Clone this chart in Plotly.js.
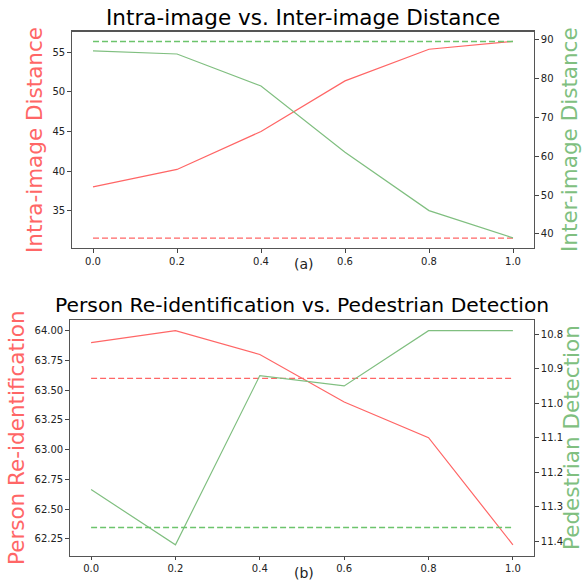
<!DOCTYPE html>
<html>
<head>
<meta charset="utf-8">
<script src="https://cdn.plot.ly/plotly-3.0.1.min.js"></script>
<style>html,body{margin:0;padding:0;background:#fff;}#chart{width:583px;height:582px;}</style>
</head>
<body>
<div id="chart"></div>
<script>
// ---- data ----
const xVals = [0.0, 0.2, 0.4, 0.6, 0.8, 1.0];
const baselineX = [0.0, 1.0];
const xTickVals = [0.0, 0.2, 0.4, 0.6, 0.8, 1.0];
const xTickText = ['0.0', '0.2', '0.4', '0.6', '0.8', '1.0'];

const intraDist = [38.0, 40.2, 45.0, 51.4, 55.4, 56.4];
const interDist = [87.0, 86.2, 78.0, 61.0, 46.0, 39.0];
const intraBaseline = [31.5, 31.5];
const interBaseline = [89.4, 89.4];
const intraTicks = [35, 40, 45, 50, 55];
const interTicks = [40, 50, 60, 70, 80, 90];

const reidScore = [63.9, 64.0, 63.8, 63.4, 63.1, 62.2];
const detScore = [11.25, 11.41, 10.92, 10.95, 10.79, 10.79];
const reidBaseline = [63.6, 63.6];
const detBaseline = [11.36, 11.36];
const reidTicks = [62.25, 62.5, 62.75, 63.0, 63.25, 63.5, 63.75, 64.0];
const reidTickText = ['62.25', '62.50', '62.75', '63.00', '63.25', '63.50', '63.75', '64.00'];
const detTicks = [10.8, 10.9, 11.0, 11.1, 11.2, 11.3, 11.4];
const detTickText = ['10.8', '10.9', '11.0', '11.1', '11.2', '11.3', '11.4'];

// ---- styles ----
const RED = '#ff6666';
const GREEN = '#80bf80';
const GREEN_DASH = '#6cc46c';
const FONT = 'DejaVu Sans, Liberation Sans, sans-serif';
const LW = 1.2;
const DASH = '6px,3px';

function line(x, y, color, xa, ya, dash, w) {
  return {x: x, y: y, type: 'scatter', mode: 'lines', xaxis: xa, yaxis: ya,
          line: {color: color, width: w || LW, dash: dash || 'solid'}, hoverinfo: 'skip', showlegend: false};
}

const traces = [
  line(xVals, intraDist, RED, 'x', 'y'),
  line(baselineX, intraBaseline, RED, 'x', 'y', DASH),
  line(xVals, interDist, GREEN, 'x', 'y2'),
  line(baselineX, interBaseline, GREEN_DASH, 'x', 'y2', DASH, 1.4),
  line(xVals, reidScore, RED, 'x2', 'y3'),
  line(baselineX, reidBaseline, RED, 'x2', 'y3', DASH),
  line(xVals, detScore, GREEN, 'x2', 'y4'),
  line(baselineX, detBaseline, GREEN_DASH, 'x2', 'y4', DASH, 1.4)
];

const common = {
  showgrid: false, zeroline: false, showline: true, linecolor: '#555', linewidth: 1.3,
  ticks: 'outside', ticklen: 3.5, tickwidth: 1, tickcolor: '#444',
  tickfont: {family: FONT, size: 10, color: '#222'}, fixedrange: true
};
function ax(extra) { return Object.assign({}, common, extra); }

const topY = [1 - 247.7 / 582, 1 - 31.7 / 582];
const botY = [1 - 555.5 / 582, 1 - 320 / 582];

const layout = {
  width: 583, height: 582,
  margin: {l: 0, r: 0, t: 0, b: 0},
  paper_bgcolor: '#fff', plot_bgcolor: '#fff',
  showlegend: false,
  xaxis: ax({domain: [72 / 583, 534 / 583], anchor: 'y', range: [-0.05, 1.05], mirror: true,
             tickmode: 'array', tickvals: xTickVals, ticktext: xTickText}),
  yaxis: ax({domain: topY, anchor: 'x', range: [30.3, 57.62],
             tickmode: 'array', tickvals: intraTicks}),
  yaxis2: ax({overlaying: 'y', side: 'right', anchor: 'x', range: [36.48, 91.92],
              tickmode: 'array', tickvals: interTicks}),
  xaxis2: ax({domain: [70 / 583, 534 / 583], anchor: 'y3', range: [-0.05, 1.05], mirror: true,
              tickmode: 'array', tickvals: xTickVals, ticktext: xTickText}),
  yaxis3: ax({domain: botY, anchor: 'x2', range: [62.11, 64.09],
              tickmode: 'array', tickvals: reidTicks, ticktext: reidTickText}),
  yaxis4: ax({overlaying: 'y3', side: 'right', anchor: 'x2', range: [11.441, 10.759],
              tickmode: 'array', tickvals: detTicks, ticktext: detTickText}),
  annotations: [
    {text: 'Intra-image vs. Inter-image Distance', x: 303 / 583, y: 1 - 17.5 / 582,
     font: {family: FONT, size: 21.5, color: '#000'}},
    {text: 'Person Re-identification vs. Pedestrian Detection', x: 302 / 583, y: 1 - 305 / 582,
     font: {family: FONT, size: 20.3, color: '#000'}},
    {text: '(a)', x: 304 / 583, y: 1 - 264.5 / 582, font: {family: FONT, size: 14, color: '#222'}},
    {text: '(b)', x: 304 / 583, y: 1 - 572.5 / 582, font: {family: FONT, size: 14, color: '#222'}},
    {text: 'Intra-image Distance', x: 34 / 583, y: 1 - 140 / 582, textangle: -90,
     font: {family: FONT, size: 21.5, color: RED}},
    {text: 'Inter-image Distance', x: 569 / 583, y: 1 - 140 / 582, textangle: -90,
     font: {family: FONT, size: 21.5, color: GREEN}},
    {text: 'Person Re-identification', x: 16.5 / 583, y: 1 - 437.5 / 582, textangle: -90,
     font: {family: FONT, size: 21.5, color: RED}},
    {text: 'Pedestrian Detection', x: 571.5 / 583, y: 1 - 437.5 / 582, textangle: -90,
     font: {family: FONT, size: 21.5, color: GREEN}}
  ].map(a => Object.assign({xref: 'paper', yref: 'paper', showarrow: false,
                            xanchor: 'center', yanchor: 'middle'}, a))
};

Plotly.newPlot('chart', traces, layout, {displayModeBar: false, staticPlot: true});
</script>
</body>
</html>
